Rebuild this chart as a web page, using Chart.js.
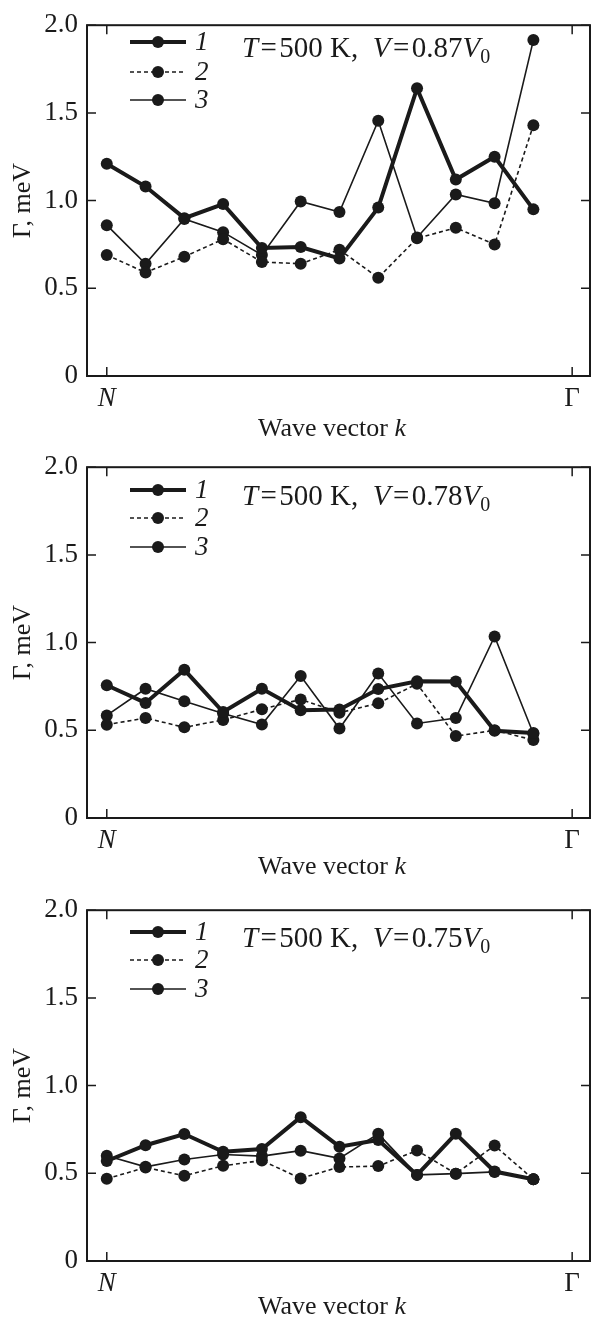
<!DOCTYPE html>
<html>
<head>
<meta charset="utf-8">
<script src="https://cdn.jsdelivr.net/npm/chart.js@4.4.1/dist/chart.umd.min.js"></script>
<style>
  html, body { margin: 0; padding: 0; background: #fff; }
  #page { position: relative; width: 596px; height: 1320px; overflow: hidden; }
  .panel { position: absolute; left: 0; width: 596px; height: 442px; }
  .panel canvas { position: absolute; left: 0; top: 0; }
  .note { position: absolute; left: 242px; font: 29px/29px "Liberation Serif", "Times New Roman", serif; color: #1a1a1a; white-space: nowrap; }
  .note sub { font-size: 20px; vertical-align: -6px; line-height: 0; }
  .xlabel { position: absolute; left: 182px; width: 300px; text-align: center; font: 26px/26px "Liberation Serif", "Times New Roman", serif; color: #1a1a1a; }
</style>
</head>
<body>
<div id="page">
  <div class="panel" style="top:0">
    <canvas id="c87" width="596" height="442"></canvas>
    <div class="note" style="top:33px"><i>T</i>&#8202;=&#8202;500 K,&nbsp; <i>V</i>&#8202;=&#8202;0.87<i>V</i><sub>0</sub></div>
    <div class="xlabel" style="top:415px">Wave vector <i>k</i></div>
  </div>
  <div class="panel" style="top:442px">
    <canvas id="c78" width="596" height="442"></canvas>
    <div class="note" style="top:39px"><i>T</i>&#8202;=&#8202;500 K,&nbsp; <i>V</i>&#8202;=&#8202;0.78<i>V</i><sub>0</sub></div>
    <div class="xlabel" style="top:411px">Wave vector <i>k</i></div>
  </div>
  <div class="panel" style="top:885px">
    <canvas id="c75" width="596" height="442"></canvas>
    <div class="note" style="top:38px"><i>T</i>&#8202;=&#8202;500 K,&nbsp; <i>V</i>&#8202;=&#8202;0.75<i>V</i><sub>0</sub></div>
    <div class="xlabel" style="top:408px">Wave vector <i>k</i></div>
  </div>
</div>
<script>
// wave vector points along N -> Gamma (Gamma itself sits at 12)
const kIndex = [0, 1, 2, 3, 4, 5, 6, 7, 8, 9, 10, 11];
const xTickPos = [0, 12];
const xTickLabels = ['N', 'Γ'];
const yTicks = [0, 0.5, 1.0, 1.5, 2.0];
const seriesNames = ['1', '2', '3'];

// damping Gamma (meV), V = 0.87 V0
const g87_1 = [1.21, 1.08, 0.90, 0.98, 0.73, 0.735, 0.67, 0.96, 1.64, 1.12, 1.25, 0.95];
const g87_2 = [0.69, 0.59, 0.68, 0.78, 0.65, 0.64, 0.72, 0.56, 0.785, 0.845, 0.75, 1.43];
const g87_3 = [0.86, 0.64, 0.895, 0.82, 0.69, 0.995, 0.935, 1.455, 0.79, 1.035, 0.985, 1.915];

// V = 0.78 V0
const g78_1 = [0.757, 0.656, 0.845, 0.604, 0.737, 0.614, 0.618, 0.735, 0.78, 0.778, 0.497, 0.485];
const g78_2 = [0.532, 0.57, 0.517, 0.559, 0.62, 0.676, 0.60, 0.654, 0.765, 0.467, 0.50, 0.445];
const g78_3 = [0.585, 0.737, 0.665, 0.596, 0.533, 0.809, 0.51, 0.824, 0.539, 0.57, 1.035, 0.48];

// V = 0.75 V0
const g75_1 = [0.57, 0.66, 0.724, 0.623, 0.638, 0.82, 0.652, 0.69, 0.491, 0.725, 0.51, 0.466];
const g75_2 = [0.469, 0.533, 0.486, 0.543, 0.573, 0.471, 0.536, 0.541, 0.63, 0.498, 0.658, 0.466];
const g75_3 = [0.60, 0.537, 0.579, 0.607, 0.598, 0.629, 0.585, 0.725, 0.491, 0.498, 0.508, 0.466];

const INK = '#1a1a1a';
const SERIF = '"Liberation Serif", "Times New Roman", serif';
const TICK = 9;

const lineStyles = [
  { borderWidth: 4, borderDash: [] },
  { borderWidth: 1.6, borderDash: [4, 3] },
  { borderWidth: 1.6, borderDash: [] }
];

// box, inward ticks on all sides and the in-plot legend
const framePlugin = {
  id: 'frame',
  afterDatasetsDraw(chart, args, opts) {
    const { ctx, chartArea: a, scales: { x, y } } = chart;
    ctx.save();
    ctx.strokeStyle = INK;
    ctx.fillStyle = INK;
    ctx.lineWidth = 2;
    ctx.strokeRect(a.left, a.top, a.right - a.left, a.bottom - a.top);

    ctx.lineWidth = 1.5;
    ctx.beginPath();
    yTicks.forEach(v => {
      const py = y.getPixelForValue(v);
      ctx.moveTo(a.left, py);  ctx.lineTo(a.left + TICK, py);
      ctx.moveTo(a.right, py); ctx.lineTo(a.right - TICK, py);
    });
    xTickPos.forEach(v => {
      const px = x.getPixelForValue(v);
      ctx.moveTo(px, a.bottom); ctx.lineTo(px, a.bottom - TICK);
      ctx.moveTo(px, a.top);    ctx.lineTo(px, a.top + TICK);
    });
    ctx.stroke();

    chart.data.datasets.forEach((ds, i) => {
      const ly = opts.rows[i];
      ctx.lineWidth = ds.borderWidth;
      ctx.setLineDash(ds.borderDash);
      ctx.beginPath();
      ctx.moveTo(130, ly);
      ctx.lineTo(186, ly);
      ctx.stroke();
      ctx.setLineDash([]);
      ctx.beginPath();
      ctx.arc(158, ly, ds.pointRadius, 0, Math.PI * 2);
      ctx.fill();
      ctx.font = 'italic 27px ' + SERIF;
      ctx.textBaseline = 'middle';
      ctx.fillText(ds.label, 195, ly + 1);
    });
    ctx.restore();
  }
};

function drawPanel(id, series, rows) {
  new Chart(document.getElementById(id), {
    type: 'line',
    data: {
      datasets: series.map((vals, i) => ({
        label: seriesNames[i],
        data: kIndex.map((k, j) => ({ x: k, y: vals[j] })),
        borderColor: INK,
        backgroundColor: INK,
        borderWidth: lineStyles[i].borderWidth,
        borderDash: lineStyles[i].borderDash,
        pointRadius: 6,
        pointBorderWidth: 0,
        pointBackgroundColor: INK,
        tension: 0,
        fill: false
      }))
    },
    options: {
      responsive: false,
      animation: false,
      devicePixelRatio: 1,
      layout: { padding: { top: 17, right: 2, left: 0, bottom: 0 } },
      plugins: {
        legend: { display: false },
        tooltip: { enabled: false },
        frame: { rows }
      },
      scales: {
        x: {
          type: 'linear',
          min: -0.51,
          max: 12.46,
          afterBuildTicks: s => { s.ticks = xTickPos.map(v => ({ value: v })); },
          afterFit: s => { s.height = 66; },
          grid: { display: false, drawTicks: false },
          border: { display: false },
          ticks: {
            autoSkip: false,
            maxRotation: 0,
            padding: 7,
            color: INK,
            callback: v => xTickLabels[xTickPos.indexOf(v)],
            font: c => ({ family: SERIF, size: 27, style: c.tick && c.tick.value === 0 ? 'italic' : 'normal' })
          }
        },
        y: {
          min: 0,
          max: 2,
          afterFit: s => { s.width = 87; },
          grid: { display: false, drawTicks: false },
          border: { display: false },
          ticks: {
            stepSize: 0.5,
            padding: 9,
            color: INK,
            font: { family: SERIF, size: 27 },
            callback: v => v === 0 ? '0' : v.toFixed(1)
          },
          title: {
            display: true,
            text: 'Γ, meV',
            color: INK,
            font: { family: SERIF, size: 26 },
            padding: { top: 8, bottom: 0 }
          }
        }
      }
    },
    plugins: [framePlugin]
  });
}

drawPanel('c87', [g87_1, g87_2, g87_3], [42, 72, 100]);
drawPanel('c78', [g78_1, g78_2, g78_3], [48, 76, 105]);
drawPanel('c75', [g75_1, g75_2, g75_3], [47, 75, 104]);
</script>
</body>
</html>
